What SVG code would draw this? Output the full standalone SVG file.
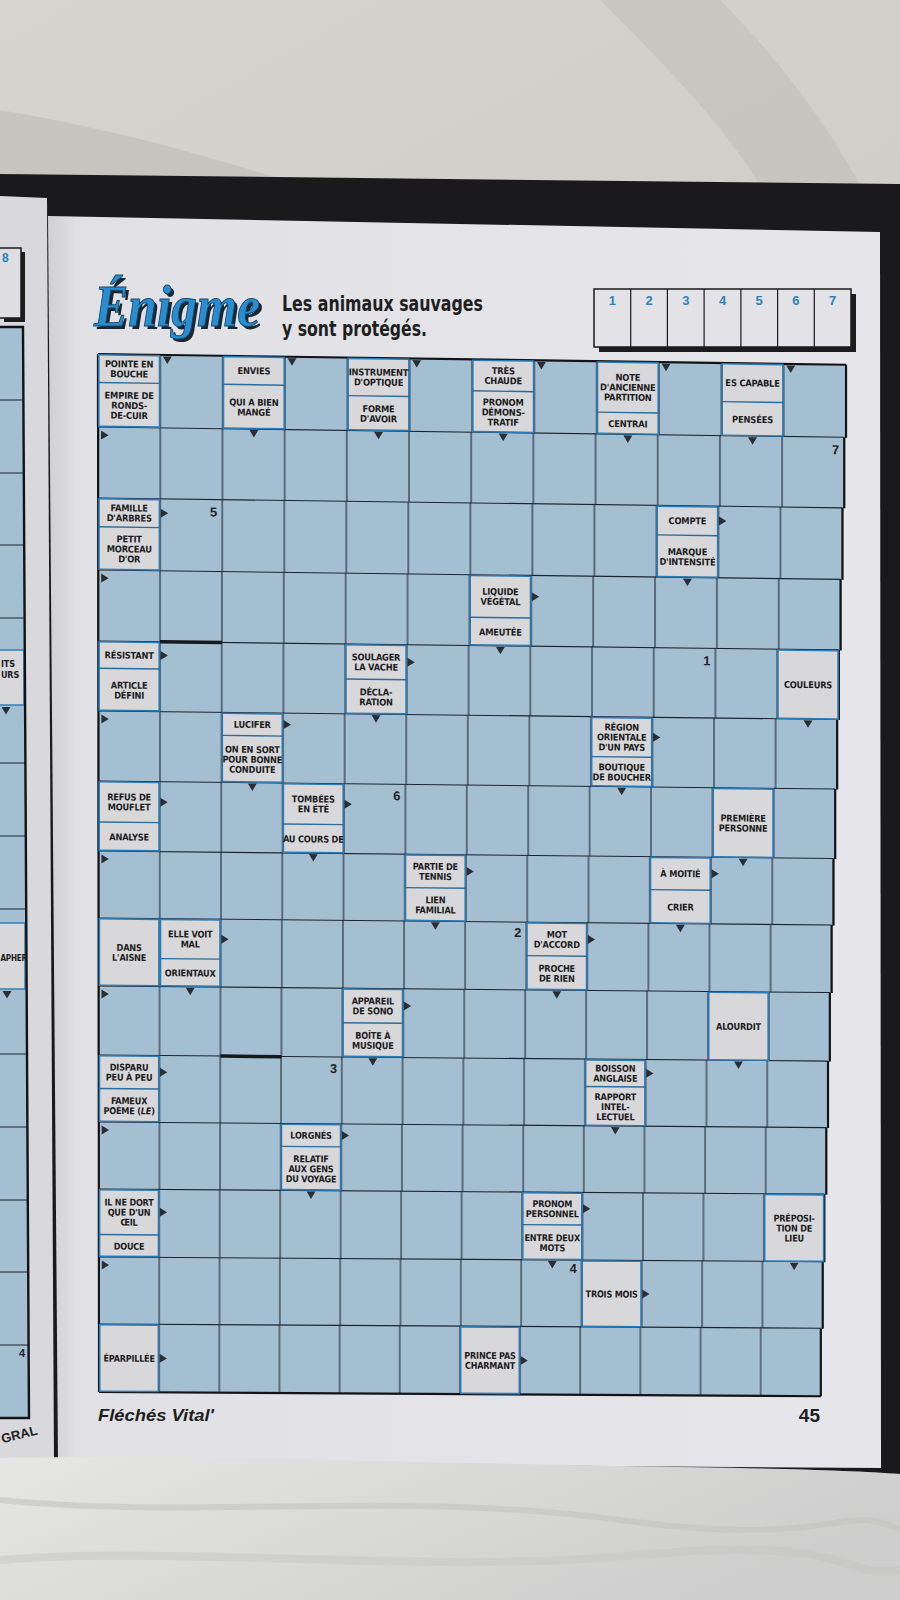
<svg xmlns="http://www.w3.org/2000/svg" width="900" height="1600" viewBox="0 0 900 1600">
<defs>
<linearGradient id="cloth" x1="0" y1="0" x2="0.3" y2="1"><stop offset="0" stop-color="#d6d4cf"/><stop offset="1" stop-color="#c6c4be"/></linearGradient>
<linearGradient id="page" x1="0" y1="0" x2="1" y2="0"><stop offset="0" stop-color="#cfcfd4"/><stop offset="0.035" stop-color="#e0e0e5"/><stop offset="1" stop-color="#e7e7eb"/></linearGradient>
<linearGradient id="blanket" x1="0" y1="0" x2="1" y2="0.4"><stop offset="0" stop-color="#e6e6e4"/><stop offset="1" stop-color="#cdcecd"/></linearGradient>
<pattern id="vl" width="62.4" height="10" patternUnits="userSpaceOnUse"><rect x="0" width="0.55" height="10" fill="#1b2530"/><rect x="61.85" width="0.55" height="10" fill="#1b2530"/></pattern>
<path id="ar" d="M0 -4.5L7.5 0L0 4.5Z"/>
<path id="ad" d="M-4.5 0H4.5L0 7.5Z"/>
</defs>
<style>
.cell{fill:#a4bfd2}
.gl{stroke:#1b2530;stroke-width:1.1;fill:none}
.ob{stroke:#111317;stroke-width:2.2;fill:none}
.bar{stroke:#15181c;stroke-width:3.5}
.cb{fill:#d8d8db;stroke:#2b7ab3;stroke-width:1.6}
.dv{stroke:#2b6d9c;stroke-width:1.4}
.ct{font-family:"Liberation Sans Narrow","DejaVu Sans Condensed","DejaVu Sans",sans-serif;font-stretch:condensed;font-weight:bold;font-size:9.3px;letter-spacing:-0.2px;fill:#1c1c20;text-anchor:middle}
.lt{font-family:"DejaVu Sans Condensed","DejaVu Sans",sans-serif;font-stretch:condensed;font-weight:bold;font-size:9px;letter-spacing:-0.2px;fill:#1c1c20}
.num{font-family:"Liberation Sans","DejaVu Sans",sans-serif;font-weight:bold;font-size:13px;fill:#222;text-anchor:end}
.arr use{fill:#2a2e35}
.lp{fill:#a4bfd2}
</style>

<!-- background scene -->
<rect width="900" height="1600" fill="url(#cloth)"/>
<path d="M600 0C660 60 720 120 760 185L860 185C820 110 760 40 720 0Z" fill="#b9b7b1" opacity="0.4"/>
<path d="M0 110C120 130 220 160 300 185L0 185Z" fill="#b5b3ad" opacity="0.45"/>
<path d="M0 174L900 184L900 1480L0 1480Z" fill="#1a1a1c"/>
<path d="M0 196L47 198L54 1462L0 1463Z" fill="#d9d9dd"/>
<path d="M48 216L880 232L881 1468L58 1462Z" fill="url(#page)"/>
<path d="M0 1458C150 1454 400 1462 620 1466C760 1468 850 1470 900 1474L900 1600L0 1600Z" fill="url(#blanket)"/>
<path d="M0 1500C200 1520 400 1490 620 1520S840 1500 900 1530" fill="none" stroke="#c3c3c1" stroke-width="6" opacity="0.6"/>
<path d="M0 1560C200 1545 420 1575 640 1555S840 1580 900 1570" fill="none" stroke="#c6c6c4" stroke-width="8" opacity="0.5"/>

<!-- left page fragment -->
<g id="left-page">
<path class="lp" d="M0 327H23L29 1418H0Z"/>
<path d="M0 400H23.4M0 473H23.8M0 545H24.2M0 618H24.6M0 691H25M0 763H25.4M0 836H25.8M0 909H26.2M0 981H26.6M0 1054H27M0 1127H27.4M0 1200H27.8M0 1272H28.2M0 1345H28.6" stroke="#1b2530" stroke-width="1"/>
<rect x="-2" y="650" width="26" height="55" fill="#d8d8db" stroke="#2b7ab3" stroke-width="1.4"/>
<rect x="-2" y="923" width="27" height="66" fill="#d8d8db" stroke="#2b7ab3" stroke-width="1.4"/>
<path d="M0 327H23L29 1418H0" fill="none" stroke="#111317" stroke-width="2.4"/>
<text class="lt" x="1" y="667">ITS</text>
<text class="lt" x="1" y="678">URS</text>
<text class="lt" x="0.5" y="961" style="font-size:8px">APHER</text>
<use href="#ad" x="6" y="707" fill="#2a2e35"/>
<use href="#ad" x="7" y="991" fill="#2a2e35"/>
<text class="num" x="25" y="1357" style="font-size:11px">4</text>
<rect x="4" y="252" width="21" height="70" fill="#1c1c1c"/>
<rect x="-2" y="248" width="23" height="70" fill="#dedee2" stroke="#1a1a1a" stroke-width="1.5"/>
<text x="2" y="262" font-family="Liberation Sans, sans-serif" font-weight="bold" font-size="12" fill="#2b82c0">8</text>
<text x="1" y="1440" transform="rotate(-14 15 1436)" font-family="Liberation Sans, sans-serif" font-weight="bold" font-size="13" fill="#222">GRAL</text>
</g>

<!-- header -->
<g id="header">
<text x="97" y="329" font-family="Liberation Serif, serif" font-style="italic" font-weight="bold" font-size="60" fill="#1c2632" textLength="166" lengthAdjust="spacingAndGlyphs">Énigme</text>
<text x="94" y="326" font-family="Liberation Serif, serif" font-style="italic" font-weight="bold" font-size="60" fill="#2a8dcf" stroke="#16486e" stroke-width="1" textLength="166" lengthAdjust="spacingAndGlyphs">Énigme</text>
<text x="282" y="311" font-family="Liberation Sans Narrow, DejaVu Sans Condensed, sans-serif" font-weight="bold" font-size="21" fill="#1e1e1e" textLength="201" lengthAdjust="spacingAndGlyphs">Les animaux sauvages</text>
<text x="282" y="336" font-family="Liberation Sans Narrow, DejaVu Sans Condensed, sans-serif" font-weight="bold" font-size="21" fill="#1e1e1e" textLength="145" lengthAdjust="spacingAndGlyphs">y sont protégés.</text>
</g>
<g id="answer-box">
<rect x="599" y="294" width="257" height="58" fill="#1c1c1c"/>
<rect x="594" y="289" width="257" height="58" fill="#e3e3e7" stroke="#1a1a1a" stroke-width="1.5"/>
<path d="M630.7 289V347M667.4 289V347M704.1 289V347M740.9 289V347M777.6 289V347M814.3 289V347" stroke="#1a1a1a" stroke-width="1.2"/>
<g font-family="Liberation Sans, sans-serif" font-weight="bold" font-size="13" fill="#2b82c0" text-anchor="middle">
<text x="612.4" y="305">1</text><text x="649.1" y="305">2</text><text x="685.8" y="305">3</text><text x="722.5" y="305">4</text><text x="759.2" y="305">5</text><text x="795.9" y="305">6</text><text x="832.6" y="305">7</text>
</g>
</g>

<!-- grid -->
<g id="grid">
<g transform="matrix(0.999 0.01437 0 1 98 354)"><rect class="cell" width="748.8" height="73"/><rect fill="url(#vl)" width="748.8" height="73"/><path class="ob" d="M0 0H748.8M0 0V73M748.8 0V73"/></g>
<g transform="matrix(0.9965 0.01375 0 1 98.1 427)"><rect class="cell" width="748.8" height="71"/><rect fill="url(#vl)" width="748.8" height="71"/><path class="gl" d="M0 0H748.8"/><path class="ob" d="M0 0V71M748.8 0V71"/></g>
<g transform="matrix(0.994 0.01313 0 1 98.2 498)"><rect class="cell" width="748.8" height="72"/><rect fill="url(#vl)" width="748.8" height="72"/><path class="gl" d="M0 0H748.8"/><path class="ob" d="M0 0V72M748.8 0V72"/></g>
<g transform="matrix(0.9915 0.01251 0 1 98.2 570)"><rect class="cell" width="748.8" height="71"/><rect fill="url(#vl)" width="748.8" height="71"/><path class="gl" d="M0 0H748.8"/><path class="ob" d="M0 0V71M748.8 0V71"/></g>
<g transform="matrix(0.989 0.01188 0 1 98.3 641)"><rect class="cell" width="748.8" height="70"/><rect fill="url(#vl)" width="748.8" height="70"/><path class="gl" d="M0 0H748.8"/><path class="ob" d="M0 0V70M748.8 0V70"/></g>
<g transform="matrix(0.9866 0.01126 0 1 98.4 711)"><rect class="cell" width="748.8" height="70"/><rect fill="url(#vl)" width="748.8" height="70"/><path class="gl" d="M0 0H748.8"/><path class="ob" d="M0 0V70M748.8 0V70"/></g>
<g transform="matrix(0.984 0.01064 0 1 98.4 781)"><rect class="cell" width="748.8" height="70"/><rect fill="url(#vl)" width="748.8" height="70"/><path class="gl" d="M0 0H748.8"/><path class="ob" d="M0 0V70M748.8 0V70"/></g>
<g transform="matrix(0.9816 0.01001 0 1 98.5 851)"><rect class="cell" width="748.8" height="67"/><rect fill="url(#vl)" width="748.8" height="67"/><path class="gl" d="M0 0H748.8"/><path class="ob" d="M0 0V67M748.8 0V67"/></g>
<g transform="matrix(0.979 0.00939 0 1 98.6 918)"><rect class="cell" width="748.8" height="68"/><rect fill="url(#vl)" width="748.8" height="68"/><path class="gl" d="M0 0H748.8"/><path class="ob" d="M0 0V68M748.8 0V68"/></g>
<g transform="matrix(0.9766 0.00877 0 1 98.6 986)"><rect class="cell" width="748.8" height="69"/><rect fill="url(#vl)" width="748.8" height="69"/><path class="gl" d="M0 0H748.8"/><path class="ob" d="M0 0V69M748.8 0V69"/></g>
<g transform="matrix(0.974 0.00814 0 1 98.7 1055)"><rect class="cell" width="748.8" height="67"/><rect fill="url(#vl)" width="748.8" height="67"/><path class="gl" d="M0 0H748.8"/><path class="ob" d="M0 0V67M748.8 0V67"/></g>
<g transform="matrix(0.9716 0.00752 0 1 98.8 1122)"><rect class="cell" width="748.8" height="67"/><rect fill="url(#vl)" width="748.8" height="67"/><path class="gl" d="M0 0H748.8"/><path class="ob" d="M0 0V67M748.8 0V67"/></g>
<g transform="matrix(0.969 0.0069 0 1 98.8 1189)"><rect class="cell" width="748.8" height="68"/><rect fill="url(#vl)" width="748.8" height="68"/><path class="gl" d="M0 0H748.8"/><path class="ob" d="M0 0V68M748.8 0V68"/></g>
<g transform="matrix(0.9667 0.00628 0 1 98.9 1257)"><rect class="cell" width="748.8" height="67"/><rect fill="url(#vl)" width="748.8" height="67"/><path class="gl" d="M0 0H748.8"/><path class="ob" d="M0 0V67M748.8 0V67"/></g>
<g transform="matrix(0.964 0.00565 0 1 99 1324)"><rect class="cell" width="748.8" height="68"/><rect fill="url(#vl)" width="748.8" height="68"/><path class="ob" d="M0 0V68M748.8 0V68M0 68H748.8"/><path class="gl" d="M0 0H748.8"/></g>
<g transform="matrix(0.9915 0.01251 0 1 98.2 570)"><path class="bar" d="M62.4 71H124.8"/></g>
<g transform="matrix(0.9766 0.00877 0 1 98.6 986)"><path class="bar" d="M124.8 69H187.2"/></g>
</g>

<!-- clue cells -->
<g id="clues">
<g transform="matrix(0.999 0.01437 0 1 98 354)">
<g id="clue-r0c0"><rect class="cb" x="0.8" y="0.8" width="60.8" height="71.4"/><path class="dv" d="M0 28.5H62.4"/><text class="ct"><tspan x="31.2" y="12.9">POINTE EN</tspan><tspan x="31.2" y="22.9">BOUCHE</tspan><tspan x="31.2" y="44.4">EMPIRE DE</tspan><tspan x="31.2" y="54.4">RONDS-</tspan><tspan x="31.2" y="64.4">DE-CUIR</tspan></text></g>
<g id="clue-r0c2" transform="translate(124.8 0)"><rect class="cb" x="0.8" y="0.8" width="60.8" height="71.4"/><path class="dv" d="M0 28.5H62.4"/><text class="ct"><tspan x="31.2" y="17.9">ENVIES</tspan><tspan x="31.2" y="49.4">QUI A BIEN</tspan><tspan x="31.2" y="59.4">MANGÉ</tspan></text></g>
<g id="clue-r0c4" transform="translate(249.6 0)"><rect class="cb" x="0.8" y="0.8" width="60.8" height="71.4"/><path class="dv" d="M0 38H62.4"/><text class="ct"><tspan x="31.2" y="17.6">INSTRUMENT</tspan><tspan x="31.2" y="27.6">D'OPTIQUE</tspan><tspan x="31.2" y="54.1">FORME</tspan><tspan x="31.2" y="64.1">D'AVOIR</tspan></text></g>
<g id="clue-r0c6" transform="translate(374.4 0)"><rect class="cb" x="0.8" y="0.8" width="60.8" height="71.4"/><path class="dv" d="M0 31.4H62.4"/><text class="ct"><tspan x="31.2" y="14.3">TRÈS</tspan><tspan x="31.2" y="24.3">CHAUDE</tspan><tspan x="31.2" y="45.8">PRONOM</tspan><tspan x="31.2" y="55.8">DÉMONS-</tspan><tspan x="31.2" y="65.8">TRATIF</tspan></text></g>
<g id="clue-r0c8" transform="translate(499.2 0)"><rect class="cb" x="0.8" y="0.8" width="60.8" height="71.4"/><path class="dv" d="M0 51H62.4"/><text class="ct"><tspan x="31.2" y="19.1">NOTE</tspan><tspan x="31.2" y="29.1">D'ANCIENNE</tspan><tspan x="31.2" y="39.1">PARTITION</tspan><tspan x="31.2" y="65.6">CENTRAI</tspan></text></g>
<g id="clue-r0c10" transform="translate(624 0)"><rect class="cb" x="0.8" y="0.8" width="60.8" height="71.4"/><path class="dv" d="M0 38.7H62.4"/><text class="ct"><tspan x="31.2" y="23">ES CAPABLE</tspan><tspan x="31.2" y="59.5">PENSÉES</tspan></text></g>
</g>
<g transform="matrix(0.994 0.01313 0 1 98.2 498)">
<g id="clue-r2c0"><rect class="cb" x="0.8" y="0.8" width="60.8" height="70.4"/><path class="dv" d="M0 28.8H62.4"/><text class="ct"><tspan x="31.2" y="13">FAMILLE</tspan><tspan x="31.2" y="23">D'ARBRES</tspan><tspan x="31.2" y="44">PETIT</tspan><tspan x="31.2" y="54">MORCEAU</tspan><tspan x="31.2" y="64">D'OR</tspan></text></g>
<g id="clue-r2c9" transform="translate(561.6 0)"><rect class="cb" x="0.8" y="0.8" width="60.8" height="70.4"/><path class="dv" d="M0 29.5H62.4"/><text class="ct"><tspan x="31.2" y="18.4">COMPTE</tspan><tspan x="31.2" y="49.4">MARQUE</tspan><tspan x="31.2" y="59.4">D'INTENSITÉ</tspan></text></g>
</g>
<g transform="matrix(0.9915 0.01251 0 1 98.2 570)">
<g id="clue-r3c6" transform="translate(374.4 0)"><rect class="cb" x="0.8" y="0.8" width="60.8" height="69.4"/><path class="dv" d="M0 42.6H62.4"/><text class="ct"><tspan x="31.2" y="19.9">LIQUIDE</tspan><tspan x="31.2" y="29.9">VÉGÉTAL</tspan><tspan x="31.2" y="60.4">AMEUTÉE</tspan></text></g>
</g>
<g transform="matrix(0.989 0.01188 0 1 98.3 641)">
<g id="clue-r4c0"><rect class="cb" x="0.8" y="0.8" width="60.8" height="68.4"/><path class="dv" d="M0 27.3H62.4"/><text class="ct"><tspan x="31.2" y="17.3">RÉSISTANT</tspan><tspan x="31.2" y="47.3">ARTICLE</tspan><tspan x="31.2" y="57.3">DÉFINI</tspan></text></g>
<g id="clue-r4c4" transform="translate(249.6 0)"><rect class="cb" x="0.8" y="0.8" width="60.8" height="68.4"/><path class="dv" d="M0 35H62.4"/><text class="ct"><tspan x="31.2" y="16.1">SOULAGER</tspan><tspan x="31.2" y="26.1">LA VACHE</tspan><tspan x="31.2" y="51.1">DÉCLA-</tspan><tspan x="31.2" y="61.1">RATION</tspan></text></g>
<g id="clue-r4c11" transform="translate(686.4 0)"><rect class="cb" x="0.8" y="0.8" width="60.8" height="68.4"/><text class="ct"><tspan x="31.2" y="38.6">COULEURS</tspan></text></g>
</g>
<g transform="matrix(0.9866 0.01126 0 1 98.4 711)">
<g id="clue-r5c2" transform="translate(124.8 0)"><rect class="cb" x="0.8" y="0.8" width="60.8" height="68.4"/><path class="dv" d="M0 23H62.4"/><text class="ct"><tspan x="31.2" y="15.1">LUCIFER</tspan><tspan x="31.2" y="40.1">ON EN SORT</tspan><tspan x="31.2" y="50.1">POUR BONNE</tspan><tspan x="31.2" y="60.1">CONDUITE</tspan></text></g>
<g id="clue-r5c8" transform="translate(499.2 0)"><rect class="cb" x="0.8" y="0.8" width="60.8" height="68.4"/><path class="dv" d="M0 40H62.4"/><text class="ct"><tspan x="31.2" y="13.6">RÉGION</tspan><tspan x="31.2" y="23.6">ORIENTALE</tspan><tspan x="31.2" y="33.6">D'UN PAYS</tspan><tspan x="31.2" y="53.6">BOUTIQUE</tspan><tspan x="31.2" y="63.6">DE BOUCHER</tspan></text></g>
</g>
<g transform="matrix(0.984 0.01064 0 1 98.4 781)">
<g id="clue-r6c0"><rect class="cb" x="0.8" y="0.8" width="60.8" height="68.4"/><path class="dv" d="M0 41H62.4"/><text class="ct"><tspan x="31.2" y="19.1">REFUS DE</tspan><tspan x="31.2" y="29.1">MOUFLET</tspan><tspan x="31.2" y="59.1">ANALYSE</tspan></text></g>
<g id="clue-r6c3" transform="translate(187.2 0)"><rect class="cb" x="0.8" y="0.8" width="60.8" height="68.4"/><path class="dv" d="M0 41H62.4"/><text class="ct"><tspan x="31.2" y="19.1">TOMBÉES</tspan><tspan x="31.2" y="29.1">EN ÉTÉ</tspan><tspan x="31.2" y="59.1">AU COURS DE</tspan></text></g>
<g id="clue-r6c10" transform="translate(624 0)"><rect class="cb" x="0.8" y="0.8" width="60.8" height="68.4"/><text class="ct"><tspan x="31.2" y="33.6">PREMIÈRE</tspan><tspan x="31.2" y="43.6">PERSONNE</tspan></text></g>
</g>
<g transform="matrix(0.9816 0.01001 0 1 98.5 851)">
<g id="clue-r7c5" transform="translate(312 0)"><rect class="cb" x="0.8" y="0.8" width="60.8" height="65.4"/><path class="dv" d="M0 33.5H62.4"/><text class="ct"><tspan x="31.2" y="15.4">PARTIE DE</tspan><tspan x="31.2" y="25.4">TENNIS</tspan><tspan x="31.2" y="48.9">LIEN</tspan><tspan x="31.2" y="58.9">FAMILIAL</tspan></text></g>
<g id="clue-r7c9" transform="translate(561.6 0)"><rect class="cb" x="0.8" y="0.8" width="60.8" height="65.4"/><path class="dv" d="M0 33H62.4"/><text class="ct"><tspan x="31.2" y="20.1">À MOITIÉ</tspan><tspan x="31.2" y="53.6">CRIER</tspan></text></g>
</g>
<g transform="matrix(0.979 0.00939 0 1 98.6 918)">
<g id="clue-r8c0"><rect class="cb" x="0.8" y="0.8" width="60.8" height="66.4"/><text class="ct"><tspan x="31.2" y="32.6">DANS</tspan><tspan x="31.2" y="42.6">L'AISNE</tspan></text></g>
<g id="clue-r8c1" transform="translate(62.4 0)"><rect class="cb" x="0.8" y="0.8" width="60.8" height="66.4"/><path class="dv" d="M0 40H62.4"/><text class="ct"><tspan x="31.2" y="18.6">ELLE VOIT</tspan><tspan x="31.2" y="28.6">MAL</tspan><tspan x="31.2" y="57.6">ORIENTAUX</tspan></text></g>
<g id="clue-r8c7" transform="translate(436.8 0)"><rect class="cb" x="0.8" y="0.8" width="60.8" height="66.4"/><path class="dv" d="M0 33.5H62.4"/><text class="ct"><tspan x="31.2" y="15.4">MOT</tspan><tspan x="31.2" y="25.4">D'ACCORD</tspan><tspan x="31.2" y="49.4">PROCHE</tspan><tspan x="31.2" y="59.4">DE RIEN</tspan></text></g>
</g>
<g transform="matrix(0.9766 0.00877 0 1 98.6 986)">
<g id="clue-r9c4" transform="translate(249.6 0)"><rect class="cb" x="0.8" y="0.8" width="60.8" height="67.4"/><path class="dv" d="M0 34.5H62.4"/><text class="ct"><tspan x="31.2" y="15.9">APPAREIL</tspan><tspan x="31.2" y="25.9">DE SONO</tspan><tspan x="31.2" y="50.4">BOÎTE À</tspan><tspan x="31.2" y="60.4">MUSIQUE</tspan></text></g>
<g id="clue-r9c10" transform="translate(624 0)"><rect class="cb" x="0.8" y="0.8" width="60.8" height="67.4"/><text class="ct"><tspan x="31.2" y="38.1">ALOURDIT</tspan></text></g>
</g>
<g transform="matrix(0.974 0.00814 0 1 98.7 1055)">
<g id="clue-r10c0"><rect class="cb" x="0.8" y="0.8" width="60.8" height="65.4"/><path class="dv" d="M0 33.5H62.4"/><text class="ct"><tspan x="31.2" y="15.4">DISPARU</tspan><tspan x="31.2" y="25.4">PEU À PEU</tspan><tspan x="31.2" y="48.9">FAMEUX</tspan><tspan x="31.2" y="58.9">POÈME (<tspan font-style="italic">LE</tspan>)</tspan></text></g>
<g id="clue-r10c8" transform="translate(499.2 0)"><rect class="cb" x="0.8" y="0.8" width="60.8" height="65.4"/><path class="dv" d="M0 27.5H62.4"/><text class="ct"><tspan x="31.2" y="12.4">BOISSON</tspan><tspan x="31.2" y="22.4">ANGLAISE</tspan><tspan x="31.2" y="40.9">RAPPORT</tspan><tspan x="31.2" y="50.9">INTEL-</tspan><tspan x="31.2" y="60.9">LECTUEL</tspan></text></g>
</g>
<g transform="matrix(0.9716 0.00752 0 1 98.8 1122)">
<g id="clue-r11c3" transform="translate(187.2 0)"><rect class="cb" x="0.8" y="0.8" width="60.8" height="65.4"/><path class="dv" d="M0 23H62.4"/><text class="ct"><tspan x="31.2" y="15.1">LORGNÉS</tspan><tspan x="31.2" y="38.6">RELATIF</tspan><tspan x="31.2" y="48.6">AUX GENS</tspan><tspan x="31.2" y="58.6">DU VOYAGE</tspan></text></g>
</g>
<g transform="matrix(0.969 0.0069 0 1 98.8 1189)">
<g id="clue-r12c0"><rect class="cb" x="0.8" y="0.8" width="60.8" height="66.4"/><path class="dv" d="M0 45.5H62.4"/><text class="ct"><tspan x="31.2" y="16.4">IL NE DORT</tspan><tspan x="31.2" y="26.4">QUE D'UN</tspan><tspan x="31.2" y="36.4">ŒIL</tspan><tspan x="31.2" y="60.4">DOUCE</tspan></text></g>
<g id="clue-r12c7" transform="translate(436.8 0)"><rect class="cb" x="0.8" y="0.8" width="60.8" height="66.4"/><path class="dv" d="M0 32.6H62.4"/><text class="ct"><tspan x="31.2" y="14.9">PRONOM</tspan><tspan x="31.2" y="24.9">PERSONNEL</tspan><tspan x="31.2" y="48.9">ENTRE DEUX</tspan><tspan x="31.2" y="58.9">MOTS</tspan></text></g>
<g id="clue-r12c11" transform="translate(686.4 0)"><rect class="cb" x="0.8" y="0.8" width="60.8" height="66.4"/><text class="ct"><tspan x="31.2" y="27.6">PRÉPOSI-</tspan><tspan x="31.2" y="37.6">TION DE</tspan><tspan x="31.2" y="47.6">LIEU</tspan></text></g>
</g>
<g transform="matrix(0.9667 0.00628 0 1 98.9 1257)">
<g id="clue-r13c8" transform="translate(499.2 0)"><rect class="cb" x="0.8" y="0.8" width="60.8" height="65.4"/><text class="ct"><tspan x="31.2" y="37.1">TROIS MOIS</tspan></text></g>
</g>
<g transform="matrix(0.964 0.00565 0 1 99 1324)">
<g id="clue-r14c0"><rect class="cb" x="0.8" y="0.8" width="60.8" height="66.4"/><text class="ct"><tspan x="31.2" y="37.6">ÉPARPILLÉE</tspan></text></g>
<g id="clue-r14c6" transform="translate(374.4 0)"><rect class="cb" x="0.8" y="0.8" width="60.8" height="66.4"/><text class="ct"><tspan x="31.2" y="32.6">PRINCE PAS</tspan><tspan x="31.2" y="42.6">CHARMANT</tspan></text></g>
</g>
</g>

<!-- solution numbers -->
<g id="numbers">
<text class="num" transform="matrix(0.9965 0.01375 0 1 98.1 427)" x="743.8" y="17">7</text>
<text class="num" transform="matrix(0.994 0.01313 0 1 98.2 498)" x="119.8" y="17">5</text>
<text class="num" transform="matrix(0.989 0.01188 0 1 98.3 641)" x="619" y="17">1</text>
<text class="num" transform="matrix(0.984 0.01064 0 1 98.4 781)" x="307" y="16">6</text>
<text class="num" transform="matrix(0.979 0.00939 0 1 98.6 918)" x="431.8" y="15">2</text>
<text class="num" transform="matrix(0.974 0.00814 0 1 98.7 1055)" x="244.6" y="16">3</text>
<text class="num" transform="matrix(0.9667 0.00628 0 1 98.9 1257)" x="494.2" y="13">4</text>
</g>

<!-- arrows -->
<g id="arrows" class="arr">
<g transform="matrix(0.999 0.01437 0 1 98 354)"><use href="#ad" x="69.4" y="1.5"/><use href="#ad" x="194.2" y="1.5"/><use href="#ad" x="319" y="1.5"/><use href="#ad" x="443.8" y="1.5"/><use href="#ad" x="568.6" y="1.5"/><use href="#ad" x="693.4" y="1.5"/><use href="#ad" x="156" y="73.8"/><use href="#ad" x="280.8" y="73.8"/><use href="#ad" x="405.6" y="73.8"/><use href="#ad" x="530.4" y="73.8"/><use href="#ad" x="655.2" y="73.8"/></g>
<g transform="matrix(0.9965 0.01375 0 1 98.1 427)"><use href="#ar" x="3" y="8"/></g>
<g transform="matrix(0.994 0.01313 0 1 98.2 498)"><use href="#ar" x="62.9" y="14.4"/><use href="#ar" x="624.5" y="14.75"/><use href="#ad" x="592.8" y="72.8"/></g>
<g transform="matrix(0.9915 0.01251 0 1 98.2 570)"><use href="#ar" x="3" y="8"/><use href="#ar" x="437.3" y="21.3"/><use href="#ad" x="405.6" y="71.8"/></g>
<g transform="matrix(0.989 0.01188 0 1 98.3 641)"><use href="#ar" x="62.9" y="13.65"/><use href="#ar" x="312.5" y="17.5"/><use href="#ad" x="280.8" y="70.8"/><use href="#ad" x="717.6" y="70.8"/></g>
<g transform="matrix(0.9866 0.01126 0 1 98.4 711)"><use href="#ar" x="3" y="8"/><use href="#ar" x="187.7" y="11.5"/><use href="#ad" x="156" y="70.8"/><use href="#ar" x="562.1" y="20"/><use href="#ad" x="530.4" y="70.8"/></g>
<g transform="matrix(0.984 0.01064 0 1 98.4 781)"><use href="#ar" x="62.9" y="20.5"/><use href="#ar" x="250.1" y="20.5"/><use href="#ad" x="218.4" y="70.8"/><use href="#ad" x="655.2" y="70.8"/></g>
<g transform="matrix(0.9816 0.01001 0 1 98.5 851)"><use href="#ar" x="3" y="8"/><use href="#ar" x="374.9" y="16.75"/><use href="#ad" x="343.2" y="67.8"/><use href="#ar" x="624.5" y="16.5"/><use href="#ad" x="592.8" y="67.8"/></g>
<g transform="matrix(0.979 0.00939 0 1 98.6 918)"><use href="#ar" x="125.3" y="20"/><use href="#ad" x="93.6" y="68.8"/><use href="#ar" x="499.7" y="16.75"/><use href="#ad" x="468" y="68.8"/></g>
<g transform="matrix(0.9766 0.00877 0 1 98.6 986)"><use href="#ar" x="3" y="8"/><use href="#ar" x="312.5" y="17.25"/><use href="#ad" x="280.8" y="69.8"/><use href="#ad" x="655.2" y="69.8"/></g>
<g transform="matrix(0.974 0.00814 0 1 98.7 1055)"><use href="#ar" x="62.9" y="16.75"/><use href="#ar" x="562.1" y="13.75"/><use href="#ad" x="530.4" y="67.8"/></g>
<g transform="matrix(0.9716 0.00752 0 1 98.8 1122)"><use href="#ar" x="3" y="8"/><use href="#ar" x="250.1" y="11.5"/><use href="#ad" x="218.4" y="67.8"/></g>
<g transform="matrix(0.969 0.0069 0 1 98.8 1189)"><use href="#ar" x="62.9" y="22.75"/><use href="#ar" x="499.7" y="16.3"/><use href="#ad" x="468" y="68.8"/><use href="#ad" x="717.6" y="68.8"/></g>
<g transform="matrix(0.9667 0.00628 0 1 98.9 1257)"><use href="#ar" x="3" y="8"/><use href="#ar" x="562.1" y="33.5"/></g>
<g transform="matrix(0.964 0.00565 0 1 99 1324)"><use href="#ar" x="62.9" y="34"/><use href="#ar" x="437.3" y="34"/></g>
</g>

<!-- footer -->
<g id="footer">
<text x="98" y="1421" font-family="Liberation Sans, sans-serif" font-weight="bold" font-style="italic" font-size="16.5" fill="#1e1e1e" textLength="116" lengthAdjust="spacingAndGlyphs">Fléchés Vital'</text>
<text x="820" y="1422" font-family="Liberation Sans, sans-serif" font-weight="bold" font-size="19" fill="#1e1e1e" text-anchor="end">45</text>
</g>
</svg>
